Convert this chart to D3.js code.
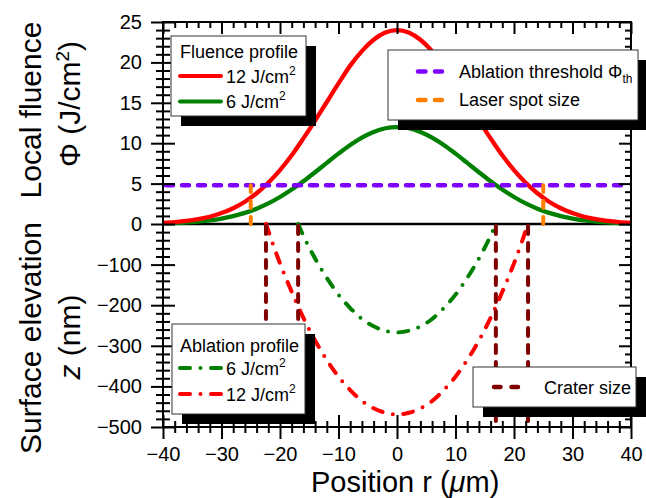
<!DOCTYPE html>
<html>
<head>
<meta charset="utf-8">
<script src="https://cdn.jsdelivr.net/npm/d3@7"></script>
<style>
  body { margin: 0; background: #fff; }
  svg { display: block; font-family: "Liberation Sans", Arial, Helvetica, sans-serif; }
</style>
</head>
<body>
<div id="chart"></div>
<script>
// fluence profiles (r in um, fluence in J/cm2)
const rFluence = [-40,-38,-36,-34,-32,-30,-28,-26,-24,-22,-20,-18,-16,-14,-12,-10,-8,-6,-4,-2,0,2,4,6,8,10,12,14,16,18,20,22,24,26,28,30,32,34,36,38,40];
const fluence12 = [0.15,0.24,0.38,0.6,0.9,1.35,1.95,2.76,3.8,5.1,6.67,8.5,10.6,12.8,15.1,17.4,19.6,21.4,22.8,23.7,24.0,23.7,22.8,21.4,19.6,17.4,15.1,12.8,10.6,8.5,6.67,5.1,3.8,2.76,1.95,1.35,0.9,0.6,0.38,0.24,0.15];
const fluence6 = [0.07,0.12,0.19,0.3,0.45,0.67,0.98,1.38,1.9,2.55,3.34,4.26,5.29,6.41,7.57,8.71,9.78,10.7,11.4,11.85,12.0,11.85,11.4,10.7,9.78,8.71,7.57,6.41,5.29,4.26,3.34,2.55,1.9,1.38,0.98,0.67,0.45,0.3,0.19,0.12,0.07];

// ablation profiles (z in nm)
const rAbl12 = [-22.4,-20,-18,-16,-14,-12,-10,-8,-6,-4,-2,0,2,4,6,8,10,12,14,16,18,20,22.4];
const abl12 = [0,-97,-167,-231,-287,-335,-376,-409,-436,-454,-465,-469,-465,-454,-436,-409,-376,-335,-287,-231,-167,-97,0];
const rAbl6 = [-16.9,-16,-14,-12,-10,-8,-6,-4,-2,0,2,4,6,8,10,12,14,16,16.9];
const abl6 = [0,-29,-85,-133,-174,-207,-234,-252,-263,-267,-263,-252,-234,-207,-174,-133,-85,-29,0];

const threshold = 4.8;
const spotEdges = [-25, 25];
const craterEdges = [-22.4, -16.9, 16.9, 22.4];

const xTicks = [-40,-30,-20,-10,0,10,20,30,40];
const topTicks = [0,5,10,15,20,25];
const botTicks = [-500,-400,-300,-200,-100];

const C = { red: '#ff0000', green: '#008000', purple: '#8000ff', orange: '#ff8000', maroon: '#800000' };

const W = 646, H = 498;
const svg = d3.select('#chart').append('svg').attr('width', W).attr('height', H);

const x = d3.scaleLinear().domain([-40, 40]).range([163, 631]);
const yTop = d3.scaleLinear().domain([0, 25]).range([224, 22]);
const yBot = d3.scaleLinear().domain([-500, 0]).range([427, 224]);

const xMinor = d3.range(-40, 41, 2).filter(v => v % 10 !== 0);
const topMinor = d3.range(0, 26, 1).filter(v => v % 5 !== 0);
const botMinor = d3.range(-500, 1, 20).filter(v => v % 100 !== 0);

function axis(gen, scale, values, size, pos, labels, pad) {
    const a = gen(scale).tickValues(values).tickSize(size).tickPadding(pad || 3);
    if (!labels) a.tickFormat('');
    const g = svg.append('g').attr('transform', pos).call(a);
    g.select('.domain').remove();
    g.selectAll('line').attr('stroke', '#000').attr('stroke-width', 2);
    g.selectAll('text').attr('font-size', 20).attr('fill', '#000').attr('font-family', null);
    return g;
}

// ---- curves
const line = (xs, sc) => d3.line().x((d, i) => x(xs[i])).y(d => sc(d)).curve(d3.curveMonotoneX);

svg.append('line').attr('x1', x(-40)).attr('x2', x(40)).attr('y1', yTop(0)).attr('y2', yTop(0))
    .attr('stroke', '#000').attr('stroke-width', 2.5);

svg.append('path').datum(fluence6).attr('d', line(rFluence, yTop))
    .attr('fill', 'none').attr('stroke', C.green).attr('stroke-width', 4.3);
svg.append('path').datum(fluence12).attr('d', line(rFluence, yTop))
    .attr('fill', 'none').attr('stroke', C.red).attr('stroke-width', 4.3);

const dashed = '7,9';
svg.append('line').attr('x1', x(-40) + 3).attr('x2', x(40) - 3).attr('y1', yTop(threshold)).attr('y2', yTop(threshold))
    .attr('stroke', C.purple).attr('stroke-width', 4.5).attr('stroke-dasharray', dashed).attr('stroke-linecap', 'round');

svg.selectAll('.spot').data(spotEdges).enter().append('line')
    .attr('x1', d => x(d)).attr('x2', d => x(d)).attr('y1', yTop(0)).attr('y2', yTop(threshold))
    .attr('stroke', C.orange).attr('stroke-width', 4).attr('stroke-dasharray', dashed).attr('stroke-linecap', 'round');

const dashDot = '10,10.5,0,10.5';
svg.append('path').datum(abl6).attr('d', line(rAbl6, yBot))
    .attr('fill', 'none').attr('stroke', C.green).attr('stroke-width', 4)
    .attr('stroke-dasharray', dashDot).attr('stroke-linecap', 'round');
svg.append('path').datum(abl12).attr('d', line(rAbl12, yBot))
    .attr('fill', 'none').attr('stroke', C.red).attr('stroke-width', 4)
    .attr('stroke-dasharray', dashDot).attr('stroke-linecap', 'round');

svg.selectAll('.crater').data(craterEdges).enter().append('line')
    .attr('x1', d => x(d)).attr('x2', d => x(d)).attr('y1', yBot(0) + 2).attr('y2', yBot(-500))
    .attr('stroke', C.maroon).attr('stroke-width', 4).attr('stroke-dasharray', '8,9').attr('stroke-linecap', 'round');

// ---- axes
// left (ticks cross the axis)
axis(d3.axisLeft, yTop, topTicks, 12, 'translate(163,0)', true, 9);
axis(d3.axisRight, yTop, topTicks, 12, 'translate(163,0)');
axis(d3.axisLeft, yTop, topMinor, 7, 'translate(163,0)');
axis(d3.axisRight, yTop, topMinor, 7, 'translate(163,0)');
axis(d3.axisLeft, yBot, botTicks, 12, 'translate(163,0)', true, 9);
axis(d3.axisRight, yBot, botTicks, 12, 'translate(163,0)');
axis(d3.axisLeft, yBot, botMinor, 7, 'translate(163,0)');
axis(d3.axisRight, yBot, botMinor, 7, 'translate(163,0)');
// bottom
axis(d3.axisBottom, x, xTicks, 12, 'translate(0,427)', true, 8);
axis(d3.axisTop, x, xTicks, 12, 'translate(0,427)');
axis(d3.axisBottom, x, xMinor, 6, 'translate(0,427)');
axis(d3.axisTop, x, xMinor, 6, 'translate(0,427)');
// top and right (inward)
axis(d3.axisBottom, x, xTicks, 12, 'translate(0,22)');
axis(d3.axisBottom, x, xMinor, 6, 'translate(0,22)');
axis(d3.axisLeft, yTop, topTicks, 12, 'translate(631,0)');
axis(d3.axisLeft, yTop, topMinor, 6, 'translate(631,0)');
axis(d3.axisLeft, yBot, botTicks, 12, 'translate(631,0)');
axis(d3.axisLeft, yBot, botMinor, 6, 'translate(631,0)');

svg.append('rect').attr('x', 163).attr('y', 22).attr('width', 631 - 163).attr('height', 427 - 22)
    .attr('fill', 'none').attr('stroke', '#000').attr('stroke-width', 2);

// ---- axis titles
function vlabel(cx, cy, parts) {
    const t = svg.append('text').attr('transform', `translate(${cx},${cy}) rotate(-90)`)
        .attr('text-anchor', 'middle').attr('font-size', 30).attr('fill', '#000');
    parts.forEach(p => {
        const s = t.append('tspan').text(p.t);
        if (p.it) s.attr('font-style', 'italic');
        if (p.sup) s.attr('font-size', 19).attr('dy', -11);
        if (p.down) s.attr('dy', 11);
    });
}
vlabel(41, 110, [{ t: 'Local fluence' }]);
vlabel(80, 104, [{ t: 'Φ (J/cm' }, { t: '2', sup: true }, { t: ')', down: true }]);
vlabel(41, 338, [{ t: 'Surface elevation' }]);
vlabel(80, 337, [{ t: 'z', it: true }, { t: ' (nm)' }]);

const xl = svg.append('text').attr('x', 311).attr('y', 491.8).attr('font-size', 29).attr('fill', '#000');
xl.append('tspan').text('Position r (');
xl.append('tspan').text('μ').attr('font-style', 'italic');
xl.append('tspan').text('m)');

// ---- legends
function box(bx, by, bw, bh) {
    svg.append('rect').attr('x', bx + 10).attr('y', by + 10).attr('width', bw).attr('height', bh).attr('fill', '#000');
    svg.append('rect').attr('x', bx).attr('y', by).attr('width', bw).attr('height', bh)
        .attr('fill', '#fff').attr('stroke', '#333').attr('stroke-width', 1);
}
function unitText(tx, ty, num) {
    const t = svg.append('text').attr('x', tx).attr('y', ty).attr('font-size', 18).attr('fill', '#000');
    t.append('tspan').text(num + ' J/cm');
    t.append('tspan').text('2').attr('font-size', 12).attr('dy', -8);
}
function key(x1, x2, y, color, dash, w) {
    const l = svg.append('line').attr('x1', x1).attr('x2', x2).attr('y1', y).attr('y2', y)
        .attr('stroke', color).attr('stroke-width', w || 4).attr('stroke-linecap', 'round');
    if (dash) l.attr('stroke-dasharray', dash);
}

box(171, 36, 135, 80);
svg.append('text').attr('x', 180).attr('y', 57.5).attr('font-size', 18).text('Fluence profile');
key(180, 221, 76, C.red);
unitText(226, 82.5, '12');
key(180, 221, 101.5, C.green);
unitText(226, 108, '6');

box(388, 50, 250, 70);
key(418, 442, 71.5, C.purple, '7.5,9.5', 4.5);
const th = svg.append('text').attr('x', 459).attr('y', 77.5).attr('font-size', 18);
th.append('tspan').text('Ablation threshold Φ');
th.append('tspan').text('th').attr('font-size', 12).attr('dy', 5);
key(418, 442, 100, C.orange, '7.5,9.5', 4.5);
svg.append('text').attr('x', 459).attr('y', 106).attr('font-size', 18).text('Laser spot size');

box(172, 324, 133, 90);
svg.append('text').attr('x', 180).attr('y', 351.5).attr('font-size', 18).text('Ablation profile');
key(180, 221, 368, C.green, dashDot);
unitText(226, 374.5, '6');
key(180, 221, 394, C.red, dashDot);
unitText(226, 400.5, '12');

box(473, 367, 163, 40);
key(494, 520, 387, C.maroon, '6.5,11', 4.5);
svg.append('text').attr('x', 544).attr('y', 393.5).attr('font-size', 18).text('Crater size');
</script>
</body>
</html>
